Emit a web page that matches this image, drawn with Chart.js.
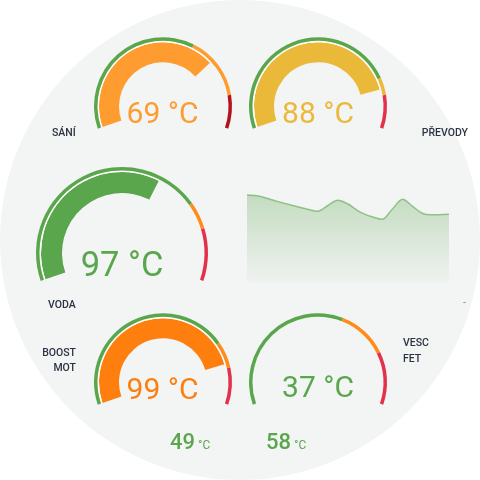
<!DOCTYPE html>
<html><head><meta charset="utf-8">
<script src="https://cdn.jsdelivr.net/npm/chart.js@4/dist/chart.umd.min.js"></script>
<style>
html,body{margin:0;padding:0;background:#ffffff;}
#stage{position:relative;width:480px;height:480px;overflow:hidden;}
#bg{position:absolute;left:0;top:0;width:480px;height:480px;border-radius:50%;background:#f3f4f4;}
canvas{position:absolute;}
.txt{position:absolute;white-space:nowrap;font-family:Roboto,"Liberation Sans",sans-serif;}
</style></head><body>
<div id="stage"><div id="bg"></div></div>
<script>
// ---------- data ----------
const gaugeNames  = [['SÁNÍ'], ['PŘEVODY'], ['VODA'], ['BOOST','MOT'], ['VESC','FET']];
const gaugeTemps  = [69, 88, 97, 99, 37];
const gaugeBars   = [71.7, 84.3, 62.4, 83.8, 0];      // bar fill, % of arc
const zoneGreen   = [62.2, 80.1, 75.1, 75.2, 59.8];   // % of arc
const zoneOrange  = [24.7, 6.8, 8.5, 10.4, 19.6];
const zoneRed     = [13.1, 13.1, 16.4, 14.4, 20.6];
const extraTemps  = [49, 58];
const trendTime   = [0,5,15,25,31,35,40,45,50,56,62,67,72,77,82,87,91,100];
const trendTemp   = [89.8,89.1,83.3,77.8,74.7,73.3,79.1,84.5,80.6,72.4,67.6,65.0,75.5,85.4,78.1,70.9,69.6,70.2];

// ---------- layout / style ----------
const GREEN = '#5aa64c';
const ARC = 218;
const stage = document.getElementById('stage');
const gaugeLayout = [
 {cx:162.5, cy:106, r:69, ring:3.5, gap:1.5, inner:44, bar:'#ff9c30', orange:'#ff9c30', red:'#b3121c', text:'#ff9c30', size:30, base:123},
 {cx:318,   cy:106, r:69, ring:3.5, gap:1.5, inner:44, bar:'#ebb93a', orange:'#ebb93a', red:'#e3304b', text:'#ebb93a', size:30, base:123},
 {cx:122,   cy:253, r:86, ring:3.5, gap:1.5, inner:60, bar:GREEN,     orange:'#ff8c1a', red:'#e3304b', text:GREEN,     size:34.5, base:276},
 {cx:162.5, cy:382, r:69, ring:3.5, gap:1.5, inner:44, bar:'#ff7f0e', orange:'#ff8c1a', red:'#e3304b', text:'#ff7f0e', size:30, base:399},
 {cx:318,   cy:382, r:69, ring:3.5, gap:1.5, inner:44, bar:GREEN,     orange:'#ff8c1a', red:'#e3304b', text:GREEN,     size:30, base:397}
];
const labelLayout = [
 [{x:52, base:137, align:'left'}],
 [{x:468, base:137, align:'right'}],
 [{x:48, base:309, align:'left'}],
 [{x:76, base:357, align:'right'},{x:76, base:372, align:'right'}],
 [{x:403, base:347, align:'left'},{x:403, base:363, align:'left'}]
];
const extraLayout = [{x:170, base:450}, {x:266, base:450}];

function addText(str, x, base, size, color, weight, align){
  const d = document.createElement('div');
  d.className = 'txt';
  d.textContent = str;
  d.style.fontSize = size + 'px';
  d.style.lineHeight = size + 'px';
  d.style.top = (base - 0.842*size) + 'px';
  d.style.color = color;
  d.style.fontWeight = weight;
  if (align === 'center') { d.style.left = (x-150)+'px'; d.style.width='300px'; d.style.textAlign='center'; }
  else if (align === 'right') { d.style.left = (x-300)+'px'; d.style.width='300px'; d.style.textAlign='right'; }
  else d.style.left = x + 'px';
  stage.appendChild(d);
  return d;
}

function makeGauge(i){
  const L = gaugeLayout[i];
  const R = L.r, half = ARC/2;
  const offY = (1 + Math.cos(half*Math.PI/180))/2;
  const W = 2*R + 8, H = 2*R + 8;
  const c = document.createElement('canvas');
  c.width = W; c.height = H;
  c.style.width = W+'px'; c.style.height = H+'px';
  c.style.left = (L.cx - W/2) + 'px';
  c.style.top = (L.cy - offY*R - H/2) + 'px';
  stage.appendChild(c);
  new Chart(c, {
    type: 'doughnut',
    data: {
      labels: ['a','b','c'],
      datasets: [
        {data:[zoneGreen[i], zoneOrange[i], zoneRed[i]], backgroundColor:[GREEN, L.orange, L.red], weight:L.ring, borderWidth:0},
        {data:[gaugeBars[i], 100-gaugeBars[i]], backgroundColor:['#ffffff','rgba(0,0,0,0)'], weight:L.gap, borderWidth:0},
        {data:[gaugeBars[i], 100-gaugeBars[i]], backgroundColor:[L.bar,'rgba(0,0,0,0)'], weight:(R-L.ring-L.gap-L.inner), borderWidth:0}
      ]
    },
    options: {
      responsive:false, animation:false, events:[],
      rotation:-half, circumference:ARC, radius:R, cutout:(L.inner/R*100)+'%',
      layout:{padding:0},
      plugins:{legend:{display:false}, tooltip:{enabled:false}}
    }
  });
  addText(gaugeTemps[i] + ' °C', L.cx, L.base, L.size, L.text, 400, 'center');
  gaugeNames[i].forEach((s,k) => {
    const p = labelLayout[i][k];
    addText(s, p.x, p.base, 10.5, '#2b3342', 500, p.align);
  });
}
for (let i = 0; i < gaugeTemps.length; i++) makeGauge(i);

// trend area chart
(function(){
  const c = document.createElement('canvas');
  c.width = 202; c.height = 98;
  c.style.width='202px'; c.style.height='98px';
  c.style.left='247px'; c.style.top='185px';
  stage.appendChild(c);
  new Chart(c, {
    type:'line',
    data:{ datasets:[{
      data: trendTime.map((t,k)=>({x:t, y:trendTemp[k]})),
      borderColor:'rgba(90,166,76,0.6)', borderWidth:1.5, pointRadius:0,
      cubicInterpolationMode:'monotone', fill:'start',
      backgroundColor:(ctx)=>{
        const ch = ctx.chart, a = ch.chartArea;
        if (!a) return 'rgba(90,166,76,0.2)';
        const g = ch.ctx.createLinearGradient(0, a.top, 0, a.bottom);
        g.addColorStop(0, 'rgba(90,166,76,0.34)');
        g.addColorStop(1, 'rgba(90,166,76,0.02)');
        return g;
      }
    }]},
    options:{
      responsive:false, animation:false, events:[],
      layout:{padding:0},
      scales:{ x:{type:'linear', min:0, max:100, display:false}, y:{min:0, max:100, display:false} },
      plugins:{legend:{display:false}, tooltip:{enabled:false}}
    }
  });
})();
addText('-', 463, 306, 11, '#7f8ea3', 400, 'left');

// extra values
extraTemps.forEach((v,k)=>{
  const p = extraLayout[k];
  const d = addText('', p.x, p.base, 22, GREEN, 500, 'left');
  const a = document.createElement('span'); a.textContent = v;
  const b = document.createElement('span'); b.textContent = ' °C'; b.style.fontSize='12px'; b.style.fontWeight='400';
  d.appendChild(a); d.appendChild(b);
});
</script>
</body></html>
